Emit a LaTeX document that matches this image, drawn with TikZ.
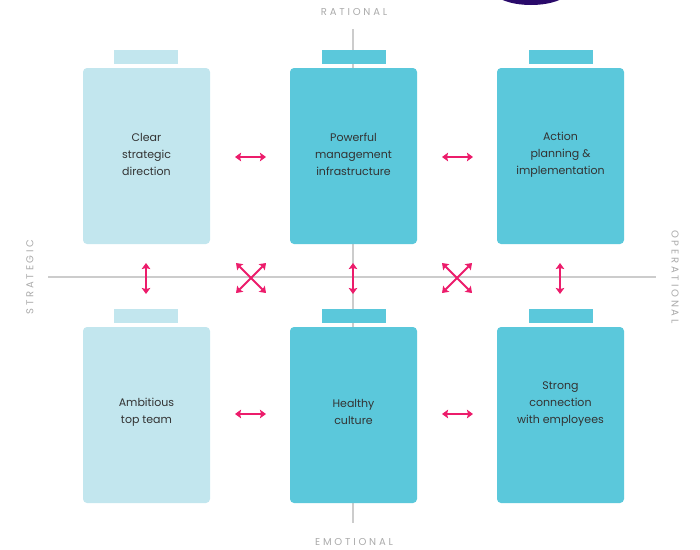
\documentclass[tikz,border=0pt]{standalone}
\usepackage{fontspec}
\setmainfont{Poppins}
\usetikzlibrary{arrows.meta}
\definecolor{lightbox}{HTML}{C2E6EE}
\definecolor{darkbox}{HTML}{5BC8DB}
\definecolor{pinkarrow}{HTML}{EC1C6B}
\definecolor{axisgray}{HTML}{CCCCCC}
\definecolor{labelgray}{HTML}{AAAAAA}
\definecolor{textdark}{HTML}{333333}
\definecolor{deeppurple}{HTML}{2A0A6A}
\tikzset{
  x=1pt, y=-1pt,
  cardbox/.style={minimum width=127pt, minimum height=176pt, rounded corners=4pt, inner sep=0pt},
  tabbox/.style={minimum width=64pt, minimum height=14pt, inner sep=0pt},
  cardtext/.style={text=textdark, font=\fontsize{11}{17}\selectfont, align=center},
  axislabel/.style={text=labelgray, inner sep=1pt, font=\fontsize{10}{12}\selectfont\addfontfeature{LetterSpace=28}},
  axisline/.style={draw=axisgray, line width=1.4pt},
  dblarrow/.style={draw=pinkarrow, line width=1.8pt, {Stealth[length=6pt,width=8.5pt,inset=1pt]}-{Stealth[length=6pt,width=8.5pt,inset=1pt]}}
}
\begin{document}
\begin{tikzpicture}
\useasboundingbox (0,0) rectangle (700,549);
% purple ellipse at top
\fill[deeppurple] (531,-12) ellipse (40pt and 17pt);
% axes
\coordinate (hl) at (48,277);
\coordinate (hr) at (656,277);
\coordinate (vt) at (353,29);
\coordinate (vb) at (353,523);
\draw[axisline] (hl) -- (hr);
\draw[axisline] (vt) -- (vb);
\node[axislabel] (rat) at (354,12) {RATIONAL};
\node[axislabel] (emo) at (354,542) {EMOTIONAL};
\node[axislabel, rotate=90] (str) at (30,277) {STRATEGIC};
\node[axislabel, rotate=-90] (ope) at (675,277) {OPERATIONAL};
% tabs
\node[tabbox, fill=lightbox] (t1) at (146,57) {};
\node[tabbox, fill=darkbox] (t2) at (354,57) {};
\node[tabbox, fill=darkbox] (t3) at (561,57) {};
\node[tabbox, fill=lightbox] (t4) at (146,316) {};
\node[tabbox, fill=darkbox] (t5) at (354,316) {};
\node[tabbox, fill=darkbox] (t6) at (561,316) {};
% boxes
\node[cardbox, fill=lightbox] (b1) at (146.5,156) {};
\node[cardbox, fill=darkbox] (b2) at (353.5,156) {};
\node[cardbox, fill=darkbox] (b3) at (560.5,156) {};
\node[cardbox, fill=lightbox] (b4) at (146.5,415) {};
\node[cardbox, fill=darkbox] (b5) at (353.5,415) {};
\node[cardbox, fill=darkbox] (b6) at (560.5,415) {};
% texts
\node[cardtext] (x1) at (146.5,154) {Clear\\strategic\\direction};
\node[cardtext] (x2) at (353.5,154) {Powerful\\management\\infrastructure};
\node[cardtext] (x3) at (560.5,155) {Action\\planning \&\\implementation};
\node[cardtext] (x4) at (146.5,412) {Ambitious\\top team};
\node[cardtext] (x5) at (353.5,412) {Healthy\\culture};
\node[cardtext] (x6) at (560.5,404) {Strong\\connection\\with employees};
% arrow coordinates
\coordinate (h1a) at (235,157); \coordinate (h1b) at (266,157);
\coordinate (h2a) at (442,157); \coordinate (h2b) at (473,157);
\coordinate (h3a) at (235,414); \coordinate (h3b) at (266,414);
\coordinate (h4a) at (442,414); \coordinate (h4b) at (473,414);
\coordinate (v1a) at (146,263); \coordinate (v1b) at (146,294);
\coordinate (v2a) at (353,263); \coordinate (v2b) at (353,294);
\coordinate (v3a) at (560,263); \coordinate (v3b) at (560,294);
\coordinate (xa1) at (236,263); \coordinate (xa2) at (266,293);
\coordinate (xa3) at (266,263); \coordinate (xa4) at (236,293);
\coordinate (xb1) at (442,263); \coordinate (xb2) at (472,293);
\coordinate (xb3) at (472,263); \coordinate (xb4) at (442,293);
\draw[dblarrow] (h1a) -- (h1b);
\draw[dblarrow] (h2a) -- (h2b);
\draw[dblarrow] (h3a) -- (h3b);
\draw[dblarrow] (h4a) -- (h4b);
\draw[dblarrow] (v1a) -- (v1b);
\draw[dblarrow] (v2a) -- (v2b);
\draw[dblarrow] (v3a) -- (v3b);
\draw[dblarrow] (xa1) -- (xa2);
\draw[dblarrow] (xa3) -- (xa4);
\draw[dblarrow] (xb1) -- (xb2);
\draw[dblarrow] (xb3) -- (xb4);
\end{tikzpicture}
\end{document}
